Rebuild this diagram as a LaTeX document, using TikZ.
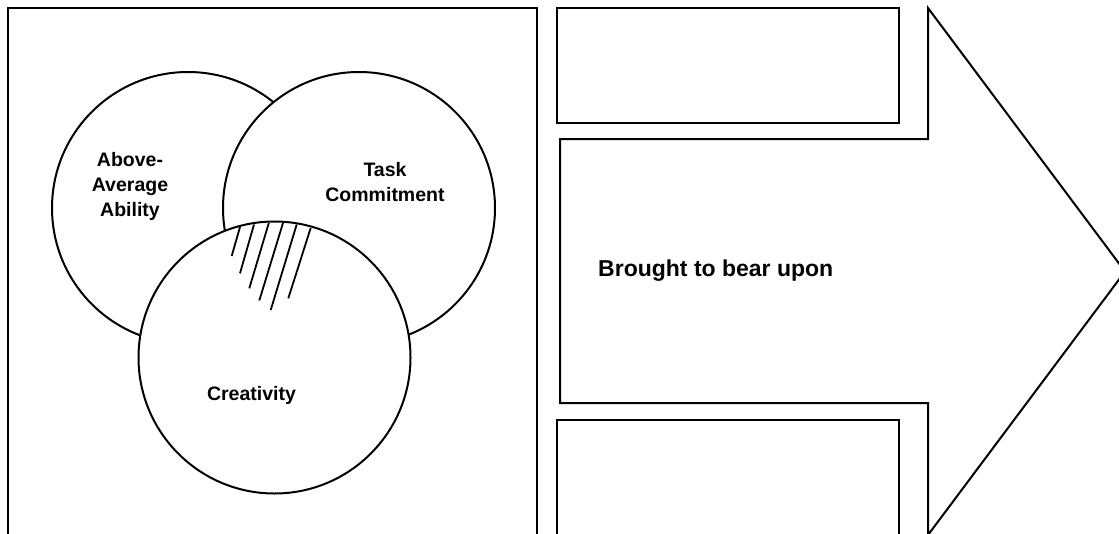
\documentclass[tikz,border=0pt]{standalone}
\usepackage{fontspec}
\setmainfont{Liberation Sans}
\begin{document}
\begin{tikzpicture}[x=1pt,y=-1pt,
  outline/.style={line width=2pt, line join=miter},
  ring/.style={circle, draw, line width=2pt, fill=white, minimum size=272pt, inner sep=0pt},
  lbl/.style={font=\bfseries\fontsize{19.5}{25}\selectfont, align=center, inner sep=0pt},
  biglbl/.style={font=\bfseries\fontsize{23}{28}\selectfont, inner sep=0pt},
  hatchline/.style={line width=1.8pt}]
\useasboundingbox (0,0) rectangle (1119,533);
\clip (0,0) rectangle (1119,533);
% left panel
\draw[outline] (8,545) -- (8,8) -- (537,8) -- (537,545);
% circles
\node[ring] (ability) at (188,208) {};
\node[ring] (task) at (359,208) {};
\node[ring] (creat) at (274.5,357.5) {};
% hatching
\draw[hatchline] (240,227) -- (231.7,256);
\draw[hatchline] (254,224.5) -- (240,273.3);
\draw[hatchline] (268.8,223) -- (249.3,288.3);
\draw[hatchline] (283,223) -- (259.3,300.5);
\draw[hatchline] (296.7,224.5) -- (270.7,310);
\draw[hatchline] (310.7,228) -- (288.3,298.3);
% labels
\node[lbl, anchor=base] (abilitytxt) at (130,216) {Above-\\Average\\Ability};
\node[lbl, anchor=base] (tasktxt) at (385,201) {Task\\Commitment};
\node[lbl, anchor=base] (creattxt) at (251.5,400) {Creativity};
% right side
\draw[outline] (557,8) rectangle (899,123);
\draw[outline] (557,545) -- (557,420) -- (899,420) -- (899,545);
\draw[outline] (560,139) -- (928,139) -- (928,8) -- (1125,271.5) -- (928,535) -- (928,403) -- (560,403) -- cycle;
\node[biglbl, anchor=base west] (bear) at (598,276) {Brought to bear upon};
\end{tikzpicture}
\end{document}
